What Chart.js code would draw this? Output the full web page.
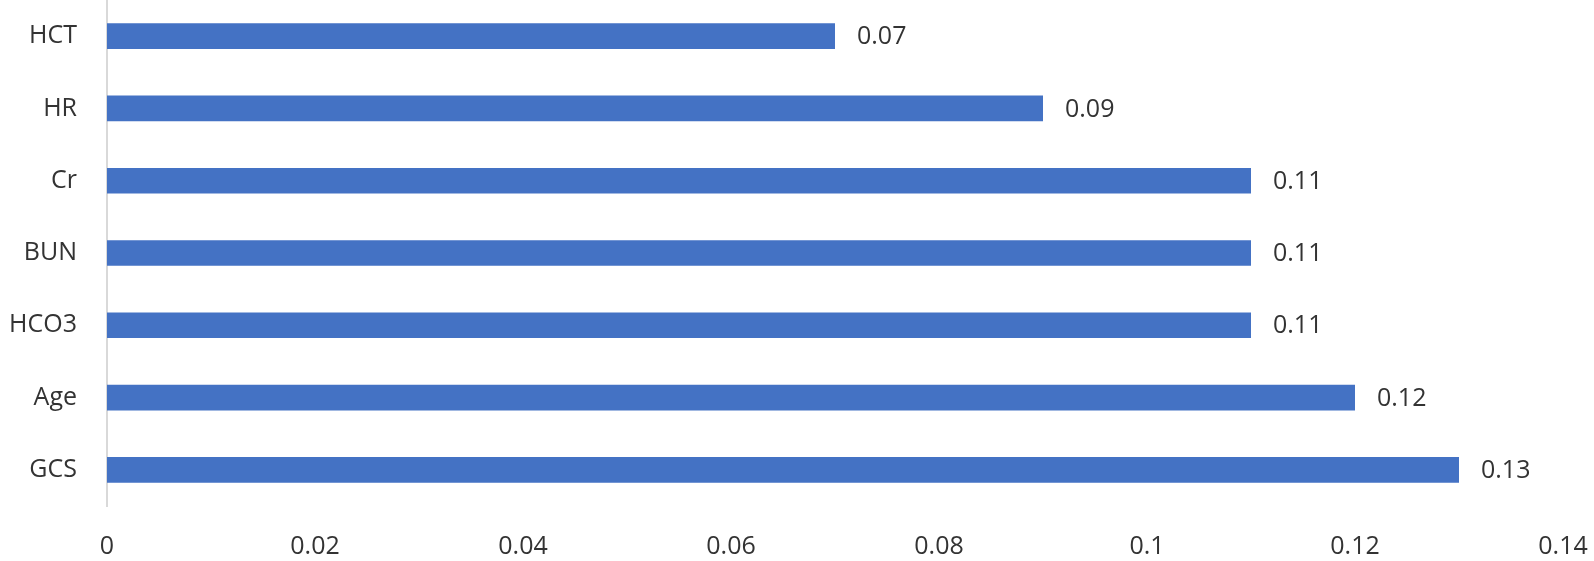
<!DOCTYPE html>
<html><head><meta charset="utf-8">
<script src="https://cdn.jsdelivr.net/npm/chart.js@4/dist/chart.umd.min.js"></script>
<style>html,body{margin:0;padding:0;background:#fff}#wrap{width:1594px;height:561px;position:relative}</style>
</head><body><div id="wrap"><canvas id="c" width="1594" height="561"></canvas></div>
<script>
const categories = ["HCT", "HR", "Cr", "BUN", "HCO3", "Age", "GCS"];
const values = [0.07, 0.09, 0.11, 0.11, 0.11, 0.12, 0.13];
const xTicks = [0, 0.02, 0.04, 0.06, 0.08, 0.1, 0.12, 0.14];

const FONT = {family: "'Open Sans', 'Liberation Sans', sans-serif", size: 25};
const TEXT = '#333333';

const valueLabels = {
  id: 'valueLabels',
  afterDatasetsDraw(chart) {
    const ctx = chart.ctx;
    const meta = chart.getDatasetMeta(0);
    ctx.save();
    ctx.font = FONT.size + 'px ' + FONT.family;
    ctx.fillStyle = TEXT;
    ctx.textAlign = 'left';
    ctx.textBaseline = 'middle';
    meta.data.forEach((bar, i) => {
      ctx.fillText(String(values[i]), bar.x + 22, bar.y + 1);
    });
    ctx.restore();
  }
};

new Chart(document.getElementById('c'), {
  type: 'bar',
  data: {
    labels: categories,
    datasets: [{
      data: values,
      backgroundColor: '#4472C4',
      categoryPercentage: 1,
      barPercentage: 0.355
    }]
  },
  options: {
    indexAxis: 'y',
    responsive: false,
    animation: false,
    layout: {padding: {top: 0, right: 0, left: 0, bottom: 0}},
    plugins: {legend: {display: false}, tooltip: {enabled: false}},
    scales: {
      x: {
        min: 0, max: 0.14,
        afterBuildTicks(scale) { scale.ticks = xTicks.map(v => ({value: v})); },
        grid: {display: false, drawTicks: false},
        border: {display: false},
        ticks: {font: FONT, color: TEXT, padding: 26, callback: (v) => String(v)},
        afterFit(scale) { scale.height = 55; scale.paddingLeft = 0; scale.paddingRight = 31; }
      },
      y: {
        grid: {display: false, drawTicks: false},
        border: {display: true, color: '#D9D9D9', width: 2},
        afterFit(scale) { scale.width = 107; scale.paddingTop = 0; scale.paddingBottom = 0; },
        ticks: {font: FONT, color: TEXT, padding: 30}
      }
    }
  },
  plugins: [valueLabels]
});
</script></body></html>
